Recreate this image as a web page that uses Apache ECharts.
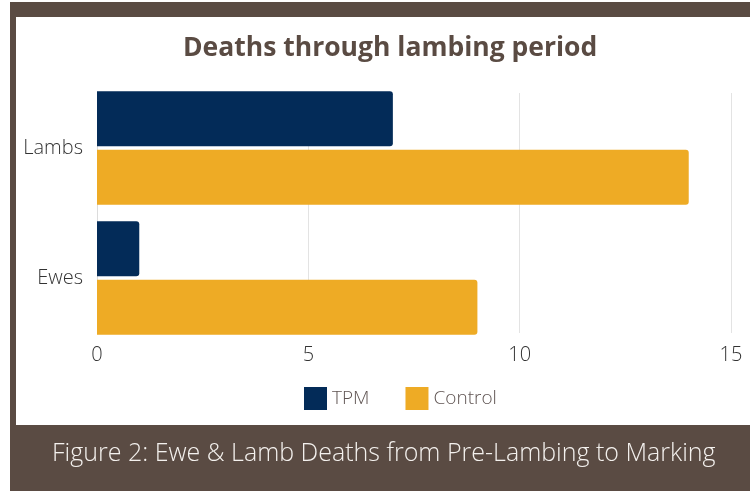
<!DOCTYPE html>
<html>
<head>
<meta charset="utf-8">
<script src="https://cdn.jsdelivr.net/npm/echarts@6/dist/echarts.min.js"></script>
<style>
html,body{margin:0;padding:0;background:#fff;}
#c{width:750px;height:491px;}
</style>
</head>
<body>
<div id="c"></div>
<script>
const categories = ['Lambs', 'Ewes'];
const tpmValues = [7, 1];
const controlValues = [14, 9];
const xTicks = { min: 0, max: 15, interval: 5 };
const titleText = 'Deaths through lambing period';
const captionText = 'Figure 2: Ewe & Lamb Deaths from Pre-Lambing to Marking';

const brown = '#5a4b43';
const chart = echarts.init(document.getElementById('c'), null, { renderer: 'canvas' });
chart.setOption({
  backgroundColor: '#ffffff',
  animation: false,
  graphic: [
    { type: 'rect', z: -10, shape: { x: 10, y: 2, width: 740, height: 489 }, style: { fill: brown } },
    { type: 'rect', z: -9, shape: { x: 16, y: 17, width: 734, height: 408 }, style: { fill: '#ffffff' } },
    { type: 'text', z: 10, left: 52, top: 441,
      style: { text: captionText, fill: '#f4f1ee', font: '300 25px "Open Sans"' } }
  ],
  title: {
    text: titleText, left: 178, top: 30,
    textStyle: { fontFamily: 'Open Sans', fontWeight: 'bold', fontSize: 26.5, color: brown }
  },
  legend: {
    data: ['TPM', 'Control'], top: 382, left: 299,
    itemWidth: 23, itemHeight: 23, itemGap: 36,
    icon: 'rect',
    textStyle: { fontFamily: 'Open Sans', fontWeight: 300, fontSize: 19, color: '#5f5452' }
  },
  grid: [
    { left: 97, right: 19, top: 83, bottom: 148 },
    { left: 97, right: 19, top: 93, bottom: 158 }
  ],
  xAxis: [
    { type: 'value', gridIndex: 0, min: xTicks.min, max: xTicks.max, interval: xTicks.interval,
      axisLabel: { show: false }, splitLine: { show: false }, axisLine: { show: false }, axisTick: { show: false } },
    { type: 'value', gridIndex: 1, min: xTicks.min, max: xTicks.max, interval: xTicks.interval,
      axisLabel: { fontFamily: 'Open Sans', fontWeight: 300, fontSize: 20, color: '#333', margin: 12 },
      splitLine: { show: true, lineStyle: { color: '#e3e3e3', width: 1 } },
      axisLine: { show: false }, axisTick: { show: false } }
  ],
  yAxis: [
    { type: 'category', gridIndex: 0, data: categories, inverse: true,
      axisLabel: { fontFamily: 'Open Sans', fontWeight: 300, fontSize: 20, color: '#333', margin: 14, padding: [6, 0, 0, 0] },
      axisLine: { show: false }, axisTick: { show: false } },
    { type: 'category', gridIndex: 1, data: categories, inverse: true,
      axisLabel: { show: false },
      axisLine: { show: true, lineStyle: { color: '#dcdcdc' } }, axisTick: { show: false } }
  ],
  series: [
    { name: 'TPM', type: 'bar', xAxisIndex: 0, yAxisIndex: 0, data: tpmValues,
      barWidth: 55, barGap: '6%', z: 5,
      itemStyle: { color: '#032b58', borderRadius: [0, 3, 3, 0] } },
    { name: 'Control', type: 'bar', xAxisIndex: 0, yAxisIndex: 0, data: controlValues,
      barWidth: 55, barGap: '6%', z: 5,
      itemStyle: { color: '#eeab25', borderRadius: [0, 3, 3, 0] } }
  ]
});
</script>
</body>
</html>
